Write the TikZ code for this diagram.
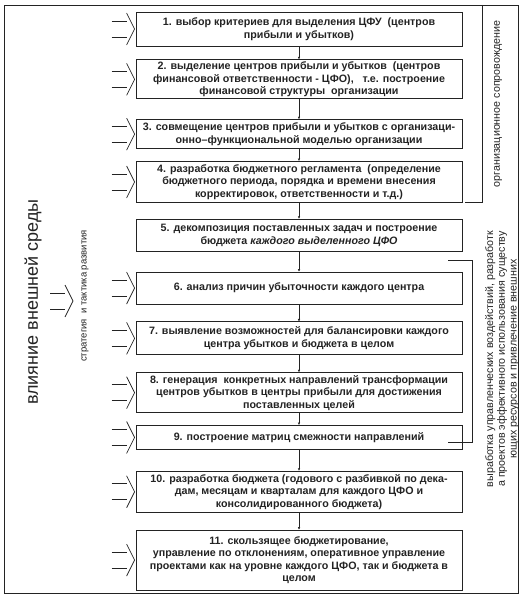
\documentclass[tikz,border=0pt]{standalone}
\usepackage{fontspec}
\setmainfont{Liberation Sans}
\usetikzlibrary{arrows.meta,positioning,calc}
\definecolor{inkGray}{RGB}{35,35,35}
\tikzset{
  stage/.style={draw=inkGray, line width=0.8pt, align=center, minimum width=326pt,
                inner sep=2pt, font=\fontsize{10.7}{12.5}\selectfont\bfseries, text=inkGray},
  link/.style={-{Latex[length=2.5pt,width=2.5pt]}, line width=0.4pt, draw=inkGray},
  feed/.style={line width=0.7pt, draw=inkGray},
  bracket/.style={line width=0.6pt, draw=inkGray},
  sidenote/.style={rotate=90, align=center, text=inkGray, inner sep=0pt,
                   font=\fontsize{10.7}{11.8}\selectfont}
}

\begin{document}
\begin{tikzpicture}[x=1pt, y=-1pt]
\useasboundingbox (0,0) rectangle (527,602);
\draw[line width=0.8pt, draw=inkGray] (4,5) rectangle (518,593);
\node[stage, minimum height=34pt] (s1) at (299,29)
  {1. выбор критериев для выделения ЦФУ\ \ (центров\\прибыли и убытков)};
\node[stage, minimum height=39pt, below=13pt of s1] (s2)
  {2. выделение центров прибыли и убытков\ \ (центров\\финансовой ответственности - ЦФО),\ \ \ т.е. построение\\финансовой структуры\ \ организации};
\node[stage, minimum height=29pt, below=20pt of s2] (s3)
  {3. совмещение центров прибыли и убытков с организаци-\\онно–функциональной моделью организации};
\node[stage, minimum height=41pt, below=12pt of s3] (s4)
  {4. разработка бюджетного регламента\ \ (определение\\бюджетного периода, порядка и времени внесения\\корректировок, ответственности и т.д.)};
\node[stage, minimum height=32pt, below=16pt of s4] (s5)
  {5. декомпозиция поставленных задач и построение\\бюджета \textit{каждого выделенного ЦФО}};
\node[stage, minimum height=32pt, below=20pt of s5] (s6)
  {6. анализ причин убыточности каждого центра};
\node[stage, minimum height=33pt, below=17pt of s6] (s7)
  {7. выявление возможностей для балансировки каждого\\центра убытков и бюджета в целом};
\node[stage, minimum height=40pt, below=17pt of s7] (s8)
  {8. генерация\ \ конкретных направлений трансформации\\центров убытков в центры прибыли для достижения\\поставленных целей};
\node[stage, minimum height=24pt, below=12pt of s8] (s9)
  {9. построение матриц смежности направлений};
\node[stage, minimum height=41pt, below=21pt of s9] (s10)
  {10. разработка бюджета (годового с разбивкой по дека-\\дам, месяцам и кварталам для каждого ЦФО и\\консолидированного бюджета)};
\node[stage, minimum height=60pt, below=17pt of s10] (s11)
  {11. скользящее бюджетирование,\\управление по отклонениям, оперативное управление\\проектами как на уровне каждого ЦФО, так и бюджета в\\целом};
\foreach \a/\b in {s1/s2,s2/s3,s3/s4,s4/s5,s5/s6,s6/s7,s7/s8,s8/s9,s9/s10,s10/s11}
  \draw[link] (\a) -- (\b);
\coordinate (mid) at (74,301);
\foreach \p in {s1.west,s2.west,s3.west,s4.west,s6.west,s7.west,s8.west,s9.west,s10.west,s11.west,mid}{
  \draw[feed] ($(\p)+(-24,-8)$) -- ($(\p)+(-9,-8)$);
  \draw[feed] ($(\p)+(-24,8)$) -- ($(\p)+(-9,8)$);
  \draw[feed] ($(\p)+(-9,-16)$) -- ($(\p)+(-1,0)$) -- ($(\p)+(-9,16)$);
}
\node[sidenote, font=\fontsize{18}{20}\selectfont] (env) at (33,302) {влияние внешней среды};
\node[sidenote, font=\fontsize{9.5}{11}\selectfont] (strat) at (85,296) {стратегия\ \ и тактика развития};
\node[sidenote] (org) at (498,104) {организационное сопровождение};
\node[sidenote] (mgmt) at (502,359)
  {выработка управленческих воздействий, разработк\\а проектов эффективного использования существу\\ющих ресурсов и привлечение внешних};
\draw[bracket] (482,5) -- (482,202) -- (465,202);
\draw[bracket] (448,260) -- (472,260) -- (472,442) -- (448,442);
\end{tikzpicture}
\end{document}
